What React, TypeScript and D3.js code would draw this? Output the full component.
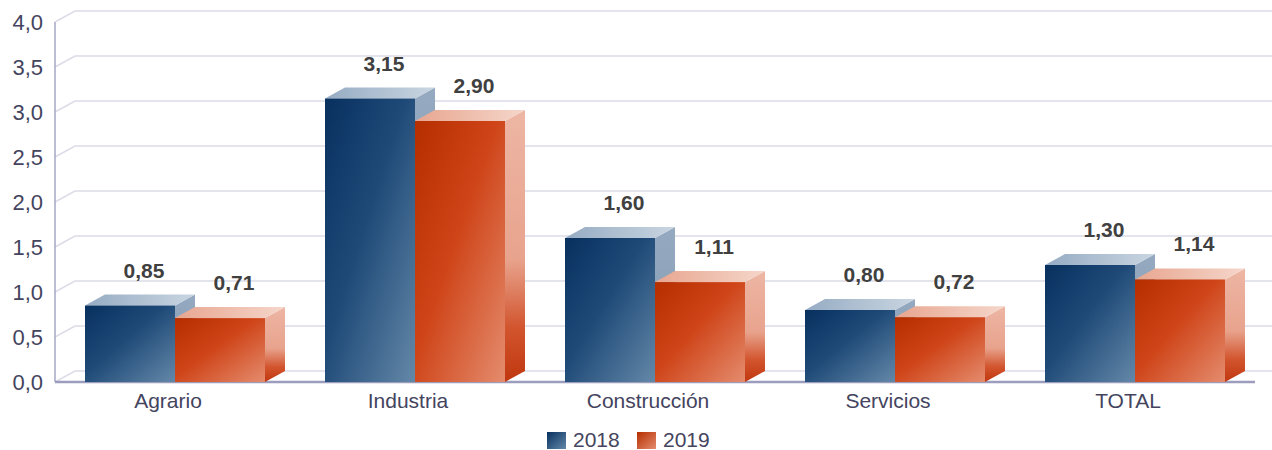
import React from "react";
import * as d3 from "d3";

const categories = ["Agrario", "Industria", "Construcción", "Servicios", "TOTAL"];
const seriesNames = ["2018", "2019"];
const values2018 = [0.85, 3.15, 1.6, 0.8, 1.3];
const values2019 = [0.71, 2.9, 1.11, 0.72, 1.14];
const yTicks = [0, 0.5, 1, 1.5, 2, 2.5, 3, 3.5, 4];

const W = 1272;
const H = 450;
const left = 55;
const right = 1255;
const y0 = 382;
const yTopPx = 22;
const DX = 20;
const DY = 11;

const esLocale = d3.formatLocale({ decimal: ",", thousands: ".", grouping: [3], currency: ["", "€"] });
const fmt2 = esLocale.format(".2f");
const fmt1 = esLocale.format(".1f");

export default function App() {
  const x = d3.scaleBand<string>().domain(categories).range([left, right]).paddingInner(0).paddingOuter(0);
  const inner = d3.scaleBand<string>().domain(seriesNames).range([0, x.bandwidth()]).paddingInner(0).paddingOuter(1 / 3);
  const y = d3.scaleLinear().domain([0, 4]).range([y0, yTopPx]);
  const series = [values2018, values2019];
  const font = "'Liberation Sans', Arial, sans-serif";

  const bars: React.ReactNode[] = [];
  categories.forEach((c, ci) => {
    seriesNames.forEach((s, si) => {
      const v = series[si][ci];
      const bx0 = (x(c) as number) + (inner(s) as number);
      const bx1 = bx0 + inner.bandwidth();
      const yt = y(v);
      const key = `${c}-${s}`;
      const side = `${bx1},${yt} ${bx1 + DX},${yt - DY} ${bx1 + DX},${y0 - DY} ${bx1},${y0}`;
      const top = `${bx0},${yt} ${bx0 + DX},${yt - DY} ${bx1 + DX},${yt - DY} ${bx1},${yt}`;
      bars.push(
        <g key={key}>
          <polygon points={side} fill={`url(#side${si})`} />
          <polygon points={top} fill={`url(#top${si})`} />
          <rect x={bx0} y={yt} width={bx1 - bx0} height={y0 - yt} fill={`url(#front${si})`} />
          <text
            x={(bx0 + bx1) / 2 + DX / 2 + 4}
            y={yt - DY - 17}
            textAnchor="middle"
            fontFamily={font}
            fontWeight="bold"
            fontSize={21}
            fill="#404040"
          >
            {fmt2(v)}
          </text>
        </g>
      );
    });
  });

  return (
    <svg width={W} height={H} style={{ position: "absolute", left: 0, top: 0, background: "#fff" }}>
      <defs>
        <linearGradient id="front0" x1="0" y1="0" x2="1" y2="1">
          <stop offset="0" stopColor="#07305f" />
          <stop offset="0.45" stopColor="#1f4a78" />
          <stop offset="1" stopColor="#6488a8" />
        </linearGradient>
        <linearGradient id="front1" x1="0" y1="0" x2="1" y2="1">
          <stop offset="0" stopColor="#b52e00" />
          <stop offset="0.45" stopColor="#cf4418" />
          <stop offset="1" stopColor="#e48c6e" />
        </linearGradient>
        <linearGradient id="top0" x1="0" y1="0" x2="1" y2="0">
          <stop offset="0" stopColor="#96acc3" />
          <stop offset="1" stopColor="#c9d5e1" />
        </linearGradient>
        <linearGradient id="top1" x1="0" y1="0" x2="1" y2="0">
          <stop offset="0" stopColor="#e8a690" />
          <stop offset="1" stopColor="#f5d6ca" />
        </linearGradient>
        <linearGradient id="side0" x1="0" y1="0" x2="0" y2="1">
          <stop offset="0" stopColor="#95aac0" />
          <stop offset="0.6" stopColor="#8aa0b8" />
          <stop offset="1" stopColor="#3d5f85" />
        </linearGradient>
        <linearGradient id="side1" x1="0" y1="0" x2="0" y2="1">
          <stop offset="0" stopColor="#edb6a4" />
          <stop offset="0.55" stopColor="#e8a38d" />
          <stop offset="0.8" stopColor="#d2552e" />
          <stop offset="1" stopColor="#c0370e" />
        </linearGradient>
        <linearGradient id="leg0" x1="0" y1="0" x2="1" y2="1">
          <stop offset="0" stopColor="#07305f" />
          <stop offset="1" stopColor="#6488a8" />
        </linearGradient>
        <linearGradient id="leg1" x1="0" y1="0" x2="1" y2="1">
          <stop offset="0" stopColor="#b52e00" />
          <stop offset="1" stopColor="#e48c6e" />
        </linearGradient>
      </defs>

      {yTicks.map((t) => (
        <g key={`g${t}`}>
          <polyline
            points={`${left},${y(t)} ${left + DX},${y(t) - DY} ${W + 10},${y(t) - DY}`}
            fill="none"
            stroke="#dcdce8"
            strokeWidth={1.5}
          />
          <text
            x={43}
            y={y(t) + 8}
            textAnchor="end"
            fontFamily={font}
            fontSize={22}
            fill="#44445e"
          >
            {fmt1(t)}
          </text>
        </g>
      ))}

      <line x1={left} y1={yTopPx} x2={left} y2={y0} stroke="#a6a6c4" strokeWidth={1.5} />
      <line x1={left} y1={y0} x2={right} y2={y0} stroke="#9c9cbc" strokeWidth={2.5} />

      {bars}

      {categories.map((c) => (
        <text
          key={`c${c}`}
          x={(x(c) as number) + x.bandwidth() / 2 - 7}
          y={408}
          textAnchor="middle"
          fontFamily={font}
          fontSize={21}
          fill="#44445e"
        >
          {c}
        </text>
      ))}

      {seriesNames.map((s, i) => (
        <g key={`l${s}`} transform={`translate(${547 + i * 90},432)`}>
          <rect x={0} y={0} width={19} height={17} fill={`url(#leg${i})`} />
          <text x={26} y={15} fontFamily={font} fontSize={21} fill="#44445e">
            {s}
          </text>
        </g>
      ))}
    </svg>
  );
}
